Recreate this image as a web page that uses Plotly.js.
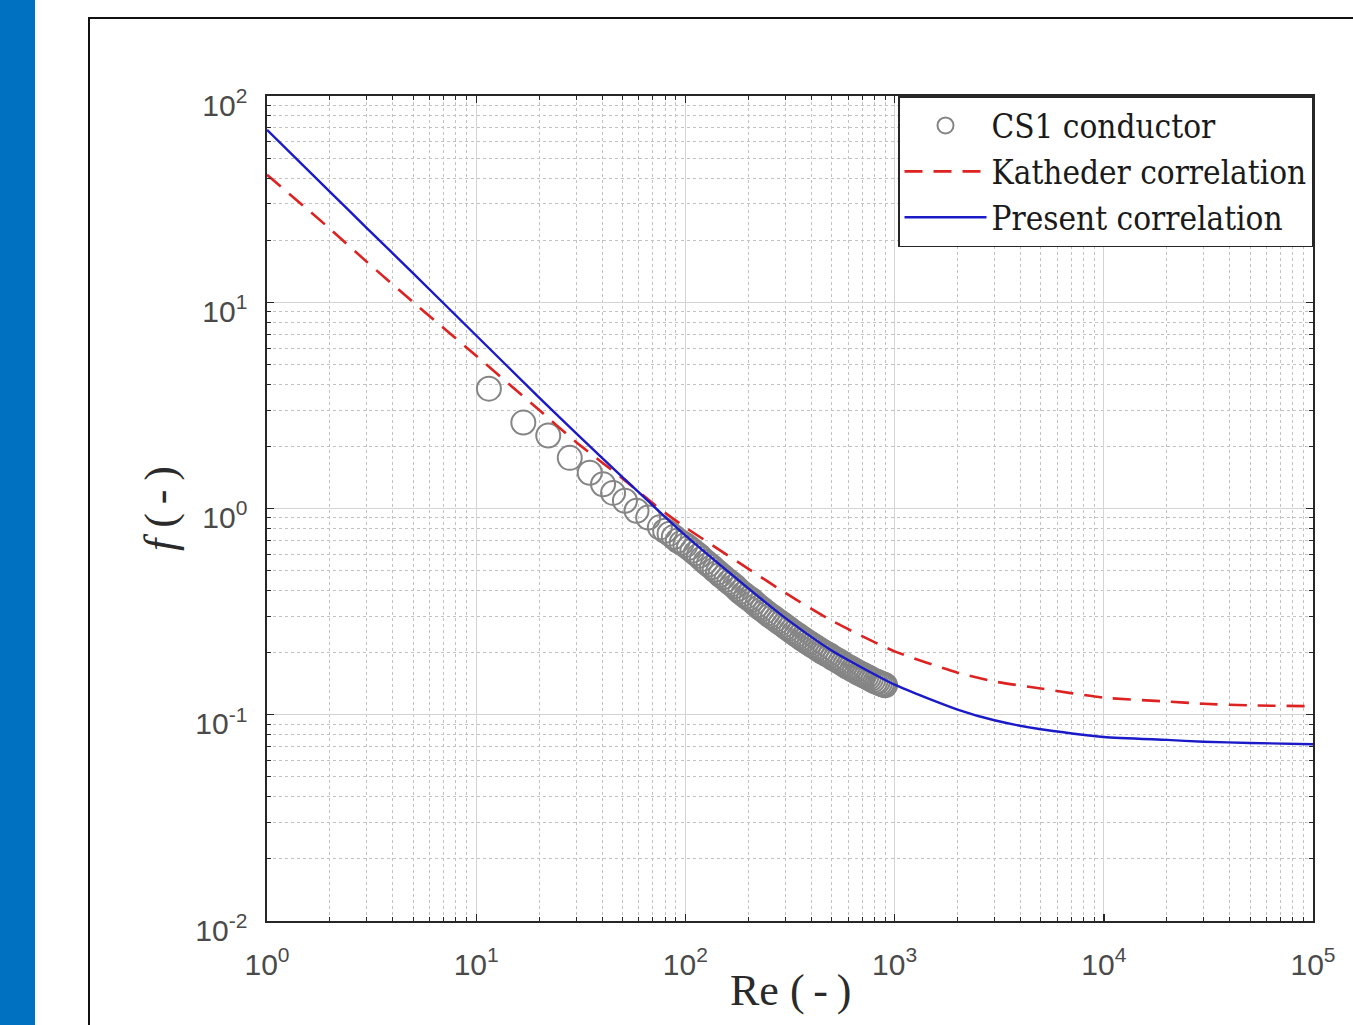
<!DOCTYPE html>
<html>
<head>
<meta charset="utf-8">
<script src="https://cdn.plot.ly/plotly-3.0.1.min.js"></script>
<style>
  html, body { margin: 0; padding: 0; background: #ffffff; }
  #chart { width: 1353px; height: 1025px; }
</style>
</head>
<body>
<div id="chart"></div>
<script>
// ---------------- data ----------------
// CS1 conductor measurements
const reCS1 = [11.5, 16.8, 22.1, 28.0, 34.9, 40.4, 45.1, 51.4, 58.4, 66.4,
  75.5, 80, 84, 88, 92, 96, 100, 104, 108, 112,
  116, 120, 125, 129, 134, 138, 143, 147, 152, 157,
  162, 167, 172, 177, 183, 189, 195, 201, 207, 213,
  220, 226, 233, 240, 247, 254, 262, 270, 278, 286,
  295, 303, 312, 321, 330, 340, 350, 360, 370, 381,
  392, 403, 415, 427, 440, 452, 465, 478, 492, 506,
  520, 535, 550, 565, 580, 596, 612, 628, 645, 662,
  680, 697, 715, 733, 752, 770, 790, 810, 830, 850,
  870, 885, 900];
const fCS1 = [3.81, 2.61, 2.26, 1.76, 1.49, 1.31, 1.19, 1.09, 0.975, 0.905,
  0.81, 0.78, 0.755, 0.728, 0.70, 0.682, 0.665, 0.645, 0.625, 0.607,
  0.59, 0.57, 0.55, 0.535, 0.52, 0.505, 0.49, 0.477, 0.465, 0.452,
  0.44, 0.43, 0.42, 0.407, 0.395, 0.385, 0.375, 0.367, 0.36, 0.35,
  0.34, 0.332, 0.325, 0.317, 0.31, 0.303, 0.297, 0.29, 0.284, 0.278,
  0.272, 0.266, 0.261, 0.255, 0.25, 0.245, 0.24, 0.235, 0.231, 0.226,
  0.222, 0.218, 0.214, 0.21, 0.206, 0.202, 0.199, 0.196, 0.193, 0.189,
  0.186, 0.183, 0.180, 0.177, 0.174, 0.171, 0.169, 0.166, 0.164, 0.161,
  0.159, 0.157, 0.155, 0.153, 0.151, 0.149, 0.147, 0.145, 0.144, 0.142,
  0.141, 0.140, 0.139];

// Katheder correlation
const reKath = [1, 2, 3, 5, 10, 20, 30, 50, 75, 100, 200, 300, 500, 1000, 2000,
  3000, 5000, 10000, 20000, 30000, 50000, 100000];
const fKath = [41.5, 22.7, 15.7, 10.0, 5.5, 3.0, 2.1, 1.4, 1.0, 0.81, 0.51, 0.39,
  0.286, 0.203, 0.160, 0.145, 0.134, 0.121, 0.116, 0.113, 0.111, 0.110];

// Present correlation
const rePresent = [1, 2, 3, 5, 10, 20, 30, 50, 100, 200, 300, 500, 1000, 2000,
  3000, 5000, 10000, 20000, 30000, 50000, 100000];
const fPresent = [68.5, 34.3, 22.9, 13.8, 6.9, 3.45, 2.32, 1.42, 0.74, 0.41, 0.295,
  0.205, 0.140, 0.106, 0.094, 0.085, 0.078, 0.0755, 0.074, 0.073, 0.072];

// tick labels
const xTickVals = [1, 10, 100, 1000, 10000, 100000];
const xTickText = ['10<sup>0</sup>', '10<sup>1</sup>', '10<sup>2</sup>', '10<sup>3</sup>', '10<sup>4</sup>', '10<sup>5</sup>'];
const yTickVals = [0.01, 0.1, 1, 10, 100];
const yTickText = ['10<sup>-2</sup>', '10<sup>-1</sup>', '10<sup>0</sup>', '10<sup>1</sup>', '10<sup>2</sup>'];

const seriesNames = ['CS1 conductor', 'Katheder correlation', 'Present correlation'];
const xTitle = 'Re (\u2009-\u2009)';
const yTitle = '<i>f</i> (\u2009-\u2009)';

// minor tick positions 2..9 within each decade of the tick lists
function minorVals(majors) {
  const out = [];
  for (let i = 0; i < majors.length - 1; i++) {
    for (let k = 2; k <= 9; k++) out.push(majors[i] * k);
  }
  return out;
}

// ---------------- layout ----------------
const W = 1353, H = 1025;
const M = { l: 267, r: 40, t: 96, b: 104 };
const pw = W - M.l - M.r, ph = H - M.t - M.b;
const px = X => (X - M.l) / pw;
const py = Y => 1 - (Y - M.t) / ph;

const tickFont = { family: 'Liberation Sans, Arial, sans-serif', size: 30, color: '#4a4a4a' };
const titleFont = { family: 'Liberation Serif, Times New Roman, serif', size: 44, color: '#2a2a2a' };

const traces = [
  {
    x: reCS1, y: fCS1, name: seriesNames[0], type: 'scatter', mode: 'markers',
    marker: { symbol: 'circle-open', size: 24, color: '#858585', line: { width: 2, color: '#858585' } }
  },
  {
    x: reKath, y: fKath, name: seriesNames[1], type: 'scatter', mode: 'lines',
    line: { color: '#dd2222', width: 2.6, dash: '18px,11px', shape: 'spline', smoothing: 0.6 }
  },
  {
    x: rePresent, y: fPresent, name: seriesNames[2], type: 'scatter', mode: 'lines',
    line: { color: '#1a1ac8', width: 2.4, shape: 'spline', smoothing: 0.6 }
  }
];

function axis(majors) {
  return {
    type: 'log',
    showline: true, linecolor: '#262626', linewidth: 1.6, mirror: 'ticks',
    ticks: 'inside', ticklen: 7, tickwidth: 1.4, tickcolor: '#262626',
    showgrid: true, gridcolor: '#d4d4d4', gridwidth: 1,
    zeroline: false,
    tickfont: tickFont,
    tickmode: 'array', tickvals: majors,
    minor: {
      tickmode: 'array', tickvals: minorVals(majors),
      ticks: 'inside', ticklen: 4, tickwidth: 1, tickcolor: '#262626',
      showgrid: true, gridcolor: '#c2c2c2', griddash: 'dot', gridwidth: 1
    }
  };
}

const layout = {
  width: W, height: H,
  margin: M,
  paper_bgcolor: '#ffffff', plot_bgcolor: '#ffffff',
  showlegend: true,
  xaxis: Object.assign(axis(xTickVals), {
    range: [0, 5], ticktext: xTickText,
    ticklabelstandoff: 16
  }),
  yaxis: Object.assign(axis(yTickVals), {
    range: [-2, 2], ticktext: yTickText,
    ticklabelstandoff: 12, ticklabelshift: 9,
    title: { text: yTitle, font: titleFont, standoff: 6 }
  }),
  legend: {
    x: 1, y: 1, xanchor: 'right', yanchor: 'top',
    bgcolor: '#ffffff', bordercolor: '#262626', borderwidth: 1.5,
    font: { family: 'DejaVu Serif Condensed, DejaVu Serif, serif', size: 33, color: '#1a1a1a' },
    itemwidth: 82, tracegroupgap: 0
  },
  annotations: [
    { text: xTitle, xref: 'paper', yref: 'paper', x: px(790), y: py(990),
      xanchor: 'center', yanchor: 'middle', showarrow: false, font: titleFont }
  ],
  shapes: [
    { type: 'rect', xref: 'paper', yref: 'paper', x0: px(0), x1: px(35), y0: py(0), y1: py(H),
      fillcolor: '#0070c0', line: { width: 0 }, layer: 'below' },
    { type: 'rect', xref: 'paper', yref: 'paper', x0: px(89), x1: px(W + 20), y0: py(18), y1: py(H + 20),
      fillcolor: 'rgba(0,0,0,0)', line: { width: 2, color: '#111111' }, layer: 'below' }
  ]
};

Plotly.newPlot('chart', traces, layout, { staticPlot: true, displayModeBar: false });
</script>
</body>
</html>
